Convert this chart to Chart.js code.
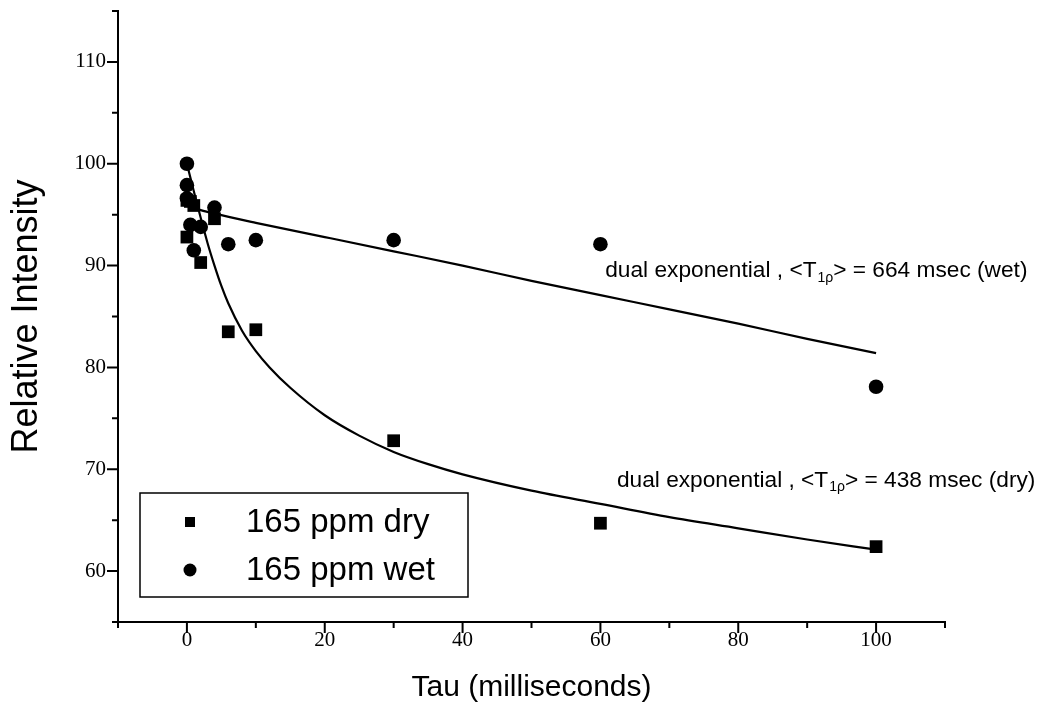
<!DOCTYPE html>
<html><head><meta charset="utf-8">
<script src="https://cdn.jsdelivr.net/npm/chart.js@4/dist/chart.umd.min.js"></script>
<style>html,body{margin:0;padding:0;background:#fff;}</style>
</head><body>
<canvas id="c" width="1041" height="708" style="width:1041px;height:708px;display:block"></canvas>
<script>
// ---- data ----
const tauDry = [0, 0, 0.5, 1, 2, 4, 6, 10, 30, 60, 100];
const intensityDry = [96.4, 92.8, 96.3, 95.9, 90.3, 94.6, 83.5, 83.7, 72.8, 64.7, 62.4];
const tauWet = [0, 0, 0, 0.5, 1, 2, 4, 6, 10, 30, 60, 100];
const intensityWet = [100, 97.9, 96.6, 94.0, 91.5, 93.8, 95.7, 92.1, 92.5, 92.5, 92.1, 78.1];
const fitDryTau = [0, 1, 2, 3, 4, 5, 6, 8, 10, 12, 15, 20, 25, 30, 35, 40, 50, 60, 70, 80, 90, 100];
const fitDryIntensity = [100, 97.3, 94.7, 92.2, 90.0, 88.0, 86.3, 83.6, 81.6, 80.0, 78.0, 75.3, 73.3, 71.7, 70.5, 69.5, 67.9, 66.6, 65.3, 64.2, 63.1, 62.1];
const fitWetTau = [0, 2, 4, 10, 20, 30, 40, 50, 60, 70, 80, 90, 100];
const fitWetIntensity = [95.9, 95.45, 95.1, 94.2, 92.8, 91.4, 90.0, 88.5, 87.1, 85.7, 84.3, 82.8, 81.4];
const xTickLabels = [0, 20, 40, 60, 80, 100];
const yTickLabels = [60, 70, 80, 90, 100, 110];
const seriesNames = ['165 ppm dry', '165 ppm wet'];
const annotations = [
  {x: 60.7, y: 89.5, pre: 'dual exponential , <T', sub: '1\u03C1', post: '> = 664 msec (wet)'},
  {x: 62.4, y: 68.9, pre: 'dual exponential , <T', sub: '1\u03C1', post: '> = 438 msec (dry)'}
];

const toXY = (xs, ys) => xs.map((v, i) => ({x: v, y: ys[i]}));
const SANS = '"Liberation Sans", Arial, Helvetica, sans-serif';
const SERIF = '"Liberation Serif", "Times New Roman", serif';

const tickMarks = {
  id: 'tickMarks',
  afterDraw(chart) {
    const {ctx, scales: {x, y}, chartArea: a} = chart;
    ctx.save();
    ctx.strokeStyle = '#000';
    ctx.lineWidth = 2;
    ctx.beginPath();
    x.ticks.forEach(t => {
      const px = x.getPixelForValue(t.value);
      const len = (t.value % 20 === 0) ? 11 : 6;
      ctx.moveTo(px, a.bottom); ctx.lineTo(px, a.bottom + len);
    });
    y.ticks.forEach(t => {
      const py = y.getPixelForValue(t.value);
      const len = (t.value % 10 === 0) ? 11 : 6;
      ctx.moveTo(a.left, py); ctx.lineTo(a.left - len, py);
    });
    ctx.stroke();
    ctx.restore();
  }
};

const notes = {
  id: 'notes',
  afterDraw(chart) {
    const {ctx, scales: {x, y}} = chart;
    ctx.save();
    ctx.fillStyle = '#000';
    ctx.textBaseline = 'middle';
    const fs = 22.7;
    annotations.forEach(n => {
      let px = x.getPixelForValue(n.x);
      const py = y.getPixelForValue(n.y);
      ctx.font = fs + 'px ' + SANS;
      ctx.fillText(n.pre, px, py); px += ctx.measureText(n.pre).width;
      ctx.font = Math.round(fs * 0.62) + 'px ' + SANS;
      ctx.fillText(n.sub, px + 1, py + 7); px += ctx.measureText(n.sub).width + 1;
      ctx.font = fs + 'px ' + SANS;
      ctx.fillText(n.post, px, py);
    });
    // legend box
    const a = chart.chartArea;
    const bx = a.left + 22, by = a.top + 482, bw = 328, bh = 104;
    ctx.lineWidth = 1.5;
    ctx.strokeStyle = '#000';
    ctx.strokeRect(bx, by, bw, bh);
    ctx.font = '33px ' + SANS;
    const rows = [by + 29, by + 77];
    ctx.fillRect(bx + 45, rows[0] - 5, 10, 10);
    ctx.beginPath(); ctx.arc(bx + 50, rows[1], 6.5, 0, Math.PI * 2); ctx.fill();
    ctx.fillText(seriesNames[0], bx + 106, rows[0] + 1);
    ctx.fillText(seriesNames[1], bx + 106, rows[1] + 1);
    ctx.restore();
  }
};

new Chart(document.getElementById('c'), {
  type: 'scatter',
  data: {
    datasets: [
      {label: seriesNames[0], data: toXY(tauDry, intensityDry), pointStyle: 'rect', pointRadius: 9,
       backgroundColor: '#000', borderColor: '#000', borderWidth: 0, showLine: false},
      {label: seriesNames[1], data: toXY(tauWet, intensityWet), pointStyle: 'circle', pointRadius: 7.3,
       backgroundColor: '#000', borderColor: '#000', borderWidth: 0, showLine: false},
      {label: 'fit dry', data: toXY(fitDryTau, fitDryIntensity), showLine: true, pointRadius: 0,
       borderColor: '#000', borderWidth: 2.2, cubicInterpolationMode: 'monotone', fill: false},
      {label: 'fit wet', data: toXY(fitWetTau, fitWetIntensity), showLine: true, pointRadius: 0,
       borderColor: '#000', borderWidth: 2.2, cubicInterpolationMode: 'monotone', fill: false}
    ]
  },
  options: {
    responsive: false,
    animation: false,
    devicePixelRatio: 1,
    layout: {padding: {top: 11, right: 96, left: 0, bottom: 0}},
    plugins: {legend: {display: false}, tooltip: {enabled: false}},
    scales: {
      x: {
        type: 'linear', min: -10, max: 110,
        ticks: {stepSize: 10, autoSkip: false, maxRotation: 0, padding: 0, color: '#000',
          font: {family: SERIF, size: 21},
          callback: v => xTickLabels.includes(v) ? String(v) : ''},
        grid: {drawOnChartArea: false, drawTicks: true, tickLength: 6, tickColor: 'rgba(0,0,0,0)'},
        border: {display: true, color: '#000', width: 2},
        title: {display: true, text: 'Tau (milliseconds)', color: '#000',
          font: {family: SANS, size: 30}, padding: {top: 0, bottom: 2}},
        afterFit: s => { s.height = 86; s.paddingLeft = 0; s.paddingRight = 0; }
      },
      y: {
        type: 'linear', min: 55, max: 115,
        ticks: {stepSize: 5, autoSkip: false, padding: 3, color: '#000',
          font: {family: SERIF, size: 21},
          callback: v => yTickLabels.includes(v) ? String(v) : ''},
        grid: {drawOnChartArea: false, drawTicks: true, tickLength: 9, tickColor: 'rgba(0,0,0,0)'},
        border: {display: true, color: '#000', width: 2},
        title: {display: true, text: 'Relative Intensity', color: '#000',
          font: {family: SANS, size: 36}, padding: {top: 5, bottom: 0}},
        afterFit: s => { s.width = 118; s.paddingTop = 0; s.paddingBottom = 0; }
      }
    }
  },
  plugins: [tickMarks, notes]
});
</script>
</body></html>
